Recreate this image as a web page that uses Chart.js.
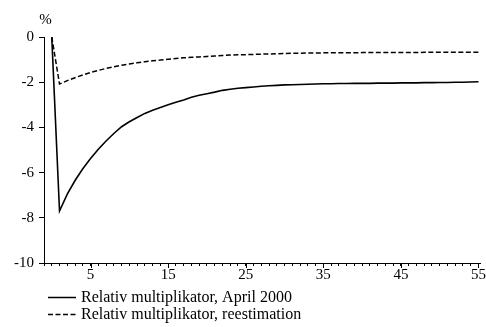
<!DOCTYPE html>
<html>
<head>
<meta charset="utf-8">
<script src="https://cdn.jsdelivr.net/npm/chart.js@4.4.1/dist/chart.umd.min.js"></script>
<style>
  html, body { margin: 0; padding: 0; background: #fff; }
</style>
</head>
<body>
<canvas id="myChart" width="486" height="327"></canvas>
<script>
// periods (quarters after shock)
const periods = [0,1,2,3,4,5,6,7,8,9,10,11,12,13,14,15,16,17,18,19,20,21,22,23,24,25,26,27,
  28,29,30,31,32,33,34,35,36,37,38,39,40,41,42,43,44,45,46,47,48,49,50,51,52,53,54,55];
// Relativ multiplikator, April 2000
const aprilValues = [0,-7.7,-6.95,-6.35,-5.83,-5.38,-4.97,-4.6,-4.27,-3.97,-3.75,-3.56,-3.38,-3.24,
  -3.12,-3.0,-2.89,-2.79,-2.67,-2.58,-2.51,-2.44,-2.36,-2.31,-2.27,-2.24,-2.21,-2.18,-2.16,-2.14,
  -2.12,-2.11,-2.1,-2.09,-2.08,-2.07,-2.07,-2.06,-2.06,-2.05,-2.05,-2.05,-2.04,-2.04,-2.04,-2.03,
  -2.03,-2.03,-2.02,-2.02,-2.01,-2.01,-2.0,-2.0,-1.99,-1.98];
// Relativ multiplikator, reestimation
const reestValues = [0,-2.08,-1.93,-1.8,-1.68,-1.57,-1.48,-1.39,-1.32,-1.25,-1.19,-1.14,-1.09,-1.05,
  -1.02,-0.98,-0.95,-0.92,-0.9,-0.88,-0.86,-0.84,-0.82,-0.8,-0.79,-0.78,-0.77,-0.76,-0.75,-0.74,
  -0.73,-0.72,-0.72,-0.71,-0.71,-0.7,-0.7,-0.7,-0.7,-0.7,-0.69,-0.69,-0.69,-0.69,-0.69,-0.69,
  -0.69,-0.69,-0.68,-0.68,-0.68,-0.68,-0.68,-0.68,-0.68,-0.68];
const xLabelTicks = [5, 15, 25, 35, 45, 55];
const yTicks = [0, -2, -4, -6, -8, -10];
const seriesNames = ['Relativ multiplikator, April 2000', 'Relativ multiplikator, reestimation'];

const serif = "'Liberation Serif', 'Times New Roman', serif";

const extras = {
  id: 'extras',
  afterDraw(chart) {
    const ctx = chart.ctx;
    const xs = chart.scales.x;
    const area = chart.chartArea;
    ctx.save();
    // longer tick marks at labelled periods
    ctx.strokeStyle = '#000';
    ctx.lineWidth = 1;
    xLabelTicks.forEach(v => {
      const px = Math.round(xs.getPixelForValue(v)) + 0.5;
      ctx.beginPath();
      ctx.moveTo(px, area.bottom);
      ctx.lineTo(px, area.bottom + 5);
      ctx.stroke();
    });
    // unit label
    ctx.fillStyle = '#000';
    ctx.font = '15px ' + serif;
    ctx.textAlign = 'center';
    ctx.textBaseline = 'alphabetic';
    ctx.fillText('%', 45.5, 24);
    // legend
    ctx.font = '16px ' + serif;
    ctx.textAlign = 'left';
    chart.data.datasets.forEach((ds, i) => {
      const base = 302 + i * 17;
      ctx.beginPath();
      ctx.setLineDash(ds.borderDash || []);
      ctx.lineWidth = 1.5;
      ctx.moveTo(48, base - 4.5);
      ctx.lineTo(76, base - 4.5);
      ctx.stroke();
      ctx.setLineDash([]);
      ctx.fillText(ds.label, 81, base);
    });
    ctx.restore();
  }
};

new Chart(document.getElementById('myChart').getContext('2d'), {
  type: 'line',
  data: {
    datasets: [
      {
        label: seriesNames[0],
        data: periods.map((p, i) => ({ x: p, y: aprilValues[i] })),
        borderColor: '#000',
        borderWidth: 1.6,
        pointRadius: 0,
        tension: 0
      },
      {
        label: seriesNames[1],
        data: periods.map((p, i) => ({ x: p, y: reestValues[i] })),
        borderColor: '#000',
        borderWidth: 1.5,
        borderDash: [5, 2.5],
        pointRadius: 0,
        tension: 0
      }
    ]
  },
  options: {
    responsive: false,
    animation: false,
    devicePixelRatio: 1,
    layout: { padding: { top: 37, right: 0, bottom: 44, left: 0 } },
    plugins: { legend: { display: false }, tooltip: { enabled: false } },
    scales: {
      x: {
        type: 'linear',
        min: -1,
        max: 55.25,
        afterBuildTicks: scale => { scale.ticks = [-1].concat(periods).map(v => ({ value: v })); },
        afterFit: scale => { scale.height = 20; },
        grid: { drawOnChartArea: false, tickLength: 3, color: '#000', tickColor: '#000' },
        border: { color: '#000', width: 1 },
        ticks: {
          autoSkip: false,
          maxRotation: 0,
          padding: 0,
          color: '#000',
          font: { family: serif, size: 15 },
          callback: v => xLabelTicks.includes(v) ? String(v) : ''
        }
      },
      y: {
        min: -10,
        max: 0,
        afterBuildTicks: scale => { scale.ticks = yTicks.map(v => ({ value: v })); },
        afterFit: scale => { scale.width = 44; },
        grid: { drawOnChartArea: false, tickLength: 5, color: '#000', tickColor: '#000' },
        border: { color: '#000', width: 1 },
        ticks: {
          padding: 5,
          color: '#000',
          font: { family: serif, size: 15 }
        }
      }
    }
  },
  plugins: [extras]
});
</script>
</body>
</html>
